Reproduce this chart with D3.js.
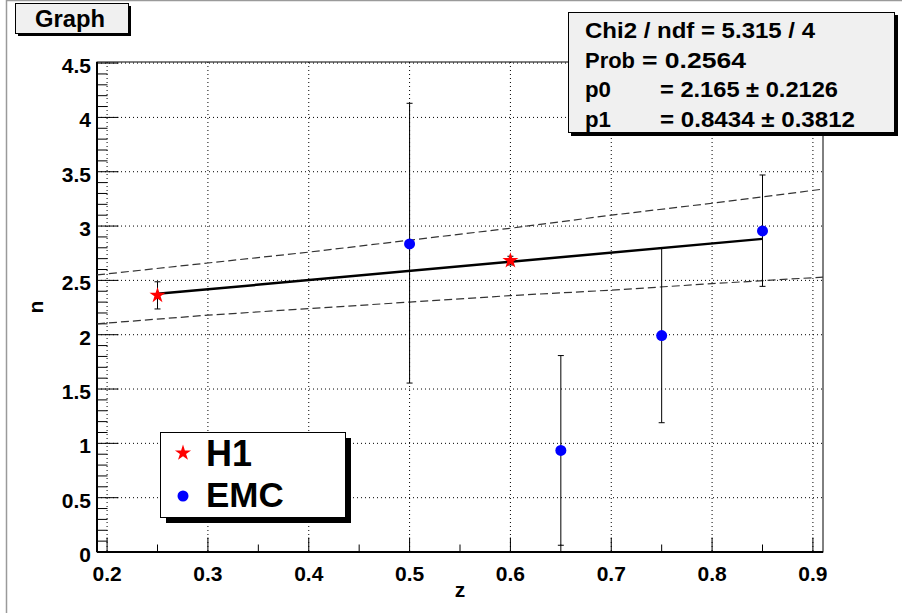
<!DOCTYPE html>
<html>
<head>
<meta charset="utf-8">
<script src="https://cdn.jsdelivr.net/npm/d3@7"></script>
<style>
  body { margin: 0; background: #fff; }
  svg { display: block; font-family: "Liberation Sans", Arial, Helvetica, sans-serif; font-weight: bold; }
</style>
</head>
<body>
<div id="chart"></div>
<script>
// data
const h1X = [0.25, 0.60]
const h1Y = [2.362, 2.682]
const h1Err = [0.125, 0.04]

const emcX = [0.50, 0.65, 0.75, 0.85]
const emcY = [2.835, 0.935, 1.992, 2.955]
const emcLow = [1.555, 0.062, 1.19, 2.445]
const emcHigh = [4.13, 1.808, 2.80, 3.47]

// fit p0 + p1*z, drawn over the range of the points
const fitX = [0.25, 0.85]
const fitY = [2.376, 2.882]

// dashed band read at a few z values
const bandX = [0.19, 0.30, 0.40, 0.50, 0.60, 0.70, 0.80, 0.91]
const bandUp = [2.55, 2.66, 2.76, 2.87, 2.98, 3.10, 3.21, 3.34]
const bandLo = [2.10, 2.18, 2.24, 2.30, 2.36, 2.41, 2.47, 2.53]

const xTicks = [0.2, 0.3, 0.4, 0.5, 0.6, 0.7, 0.8, 0.9]
const yTicks = [0, 0.5, 1, 1.5, 2, 2.5, 3, 3.5, 4, 4.5]

const statLabels = ["Chi2 / ndf = 5.315 / 4", "Prob", "p0", "p1"]
const statValues = ["", "= 0.2564", "= 2.165 \u00b1 0.2126", "= 0.8434 \u00b1 0.3812"]

const width = 902, height = 613
const fLeft = 97, fRight = 823, fTop = 62, fBottom = 552

const svg = d3.select("#chart").append("svg")
  .attr("width", width)
  .attr("height", height)

// canvas edge
svg.append("line").attr("x1", 6.5).attr("x2", 6.5).attr("y1", 0).attr("y2", height)
  .attr("stroke", "#9a9a9a").attr("stroke-width", 1.5)
svg.append("line").attr("x1", 6).attr("x2", width).attr("y1", 0.5).attr("y2", 0.5)
  .attr("stroke", "#9a9a9a").attr("stroke-width", 1.5)

let x = d3.scaleLinear().domain([0.19, 0.91]).range([fLeft, fRight])
let y = d3.scaleLinear().domain([0, 4.51]).range([fBottom, fTop])

// grid
svg.append("g").selectAll("line")
  .data(xTicks)
  .enter().append("line")
  .attr("x1", d => x(d)).attr("x2", d => x(d))
  .attr("y1", fTop).attr("y2", fBottom)
  .attr("stroke", "#000").attr("stroke-dasharray", "1,3")
svg.append("g").selectAll("line")
  .data(yTicks.filter(d => d > 0))
  .enter().append("line")
  .attr("x1", fLeft).attr("x2", fRight)
  .attr("y1", d => y(d)).attr("y2", d => y(d))
  .attr("stroke", "#000").attr("stroke-dasharray", "1,3")

// frame
svg.append("rect")
  .attr("x", fLeft).attr("y", fTop)
  .attr("width", fRight - fLeft).attr("height", fBottom - fTop)
  .attr("fill", "none").attr("stroke", "#000")

// x axis
let xMinor = d3.range(0.2, 0.91, 0.05)
let xAxis = svg.append("g").attr("transform", "translate(0," + fBottom + ")")
xAxis.append("line").attr("x1", fLeft).attr("x2", fRight).attr("stroke", "#000").attr("stroke-width", 2)
xAxis.selectAll(".minor").data(xMinor).enter().append("line")
  .attr("x1", d => x(d)).attr("x2", d => x(d))
  .attr("y1", 0).attr("y2", (d, i) => i % 2 == 0 ? -14.5 : -7.5)
  .attr("stroke", "#000")
xAxis.selectAll("text").data(xTicks).enter().append("text")
  .attr("x", d => x(d)).attr("y", 29)
  .attr("text-anchor", "middle")
  .style("font-size", "21px")
  .text(d => d3.format(".1f")(d))

// y axis
let yMinor = d3.range(0, 4.51, 0.1)
let yAxis = svg.append("g").attr("transform", "translate(" + fLeft + ",0)")
yAxis.append("line").attr("y1", fTop).attr("y2", fBottom).attr("stroke", "#000").attr("stroke-width", 2)
yAxis.selectAll(".minor").data(yMinor).enter().append("line")
  .attr("y1", d => y(d)).attr("y2", d => y(d))
  .attr("x1", 0).attr("x2", (d, i) => i % 5 == 0 ? 21.5 : 10.5)
  .attr("stroke", "#000")
yAxis.selectAll("text").data(yTicks).enter().append("text")
  .attr("x", -6).attr("y", d => y(d) + 10)
  .attr("text-anchor", "end")
  .style("font-size", "21px")
  .text(d => d)

svg.append("text")
  .attr("x", (fLeft + fRight) / 2).attr("y", 597)
  .attr("text-anchor", "middle")
  .style("font-size", "21px")
  .text("z")
svg.append("text")
  .attr("transform", "translate(43," + ((fTop + fBottom) / 2) + ") rotate(-90)")
  .attr("text-anchor", "middle")
  .style("font-size", "21px")
  .text("n")

// band and fit
let line = d3.line().x(d => x(d[0])).y(d => y(d[1]))
svg.append("path").datum(bandX.map((d, i) => [d, bandUp[i]]))
  .attr("d", line).attr("fill", "none")
  .attr("stroke", "#333").attr("stroke-width", 1.2).attr("stroke-dasharray", "8,4")
svg.append("path").datum(bandX.map((d, i) => [d, bandLo[i]]))
  .attr("d", line).attr("fill", "none")
  .attr("stroke", "#333").attr("stroke-width", 1.2).attr("stroke-dasharray", "8,4")
svg.append("path").datum(fitX.map((d, i) => [d, fitY[i]]))
  .attr("d", line).attr("fill", "none")
  .attr("stroke", "#000").attr("stroke-width", 2.5)

// error bars
function errorBar(cx, lo, hi) {
  let g = svg.append("g").attr("stroke", "#000")
  g.append("line").attr("x1", x(cx)).attr("x2", x(cx)).attr("y1", y(lo)).attr("y2", y(hi))
  g.append("line").attr("x1", x(cx) - 3).attr("x2", x(cx) + 3).attr("y1", y(lo)).attr("y2", y(lo))
  g.append("line").attr("x1", x(cx) - 3).attr("x2", x(cx) + 3).attr("y1", y(hi)).attr("y2", y(hi))
}
h1X.forEach((d, i) => errorBar(d, h1Y[i] - h1Err[i], h1Y[i] + h1Err[i]))
emcX.forEach((d, i) => errorBar(d, emcLow[i], emcHigh[i]))

let star = d3.symbol().type(d3.symbolStar).size(80)
svg.selectAll(".h1")
  .data(h1X)
  .enter().append("path")
  .attr("d", star)
  .attr("transform", (d, i) => "translate(" + x(d) + "," + y(h1Y[i]) + ")")
  .attr("fill", "red")

svg.selectAll(".emc")
  .data(emcX)
  .enter().append("circle")
  .attr("cx", d => x(d))
  .attr("cy", (d, i) => y(emcY[i]))
  .attr("r", 5.5)
  .style("fill", "blue")

// title box
svg.append("rect").attr("x", 18).attr("y", 6).attr("width", 113).attr("height", 30).attr("fill", "#000")
svg.append("rect").attr("x", 15.5).attr("y", 3.5).attr("width", 113).attr("height", 30)
  .attr("fill", "#f0f0f0").attr("stroke", "#000")
svg.append("text").attr("x", 35).attr("y", 27)
  .attr("textLength", 70).attr("lengthAdjust", "spacingAndGlyphs")
  .style("font-size", "23px").text("Graph")

// stats box
svg.append("rect").attr("x", 571).attr("y", 15).attr("width", 327).attr("height", 121).attr("fill", "#000")
svg.append("rect").attr("x", 568.5).attr("y", 12.5).attr("width", 326).attr("height", 120)
  .attr("fill", "#f0f0f0").attr("stroke", "#000")
let statBase = [38, 68, 97, 127]
let statLen = [230, 50, 26, 26]
let valLen = [0, 104, 178, 195]
let valX = [0, 642, 660, 660]
statLabels.forEach((t, i) => {
  svg.append("text").attr("x", 585).attr("y", statBase[i])
    .attr("textLength", statLen[i]).attr("lengthAdjust", "spacingAndGlyphs")
    .style("font-size", "22px").text(t)
  if (statValues[i] != "") {
    svg.append("text").attr("x", valX[i]).attr("y", statBase[i])
      .attr("textLength", valLen[i]).attr("lengthAdjust", "spacingAndGlyphs")
      .style("font-size", "22px").text(statValues[i])
  }
})

// legend
svg.append("rect").attr("x", 166).attr("y", 438).attr("width", 185).attr("height", 85).attr("fill", "#000")
svg.append("rect").attr("x", 160.5).attr("y", 432.5).attr("width", 185).attr("height", 85)
  .attr("fill", "#fff").attr("stroke", "#000")
svg.append("path").attr("d", star).attr("transform", "translate(183,453)").attr("fill", "red")
svg.append("circle").attr("cx", 183).attr("cy", 496).attr("r", 5.5).style("fill", "blue")
svg.append("text").attr("x", 206).attr("y", 466).style("font-size", "36px").text("H1")
svg.append("text").attr("x", 206).attr("y", 507).style("font-size", "35px").text("EMC")
</script>
</body>
</html>
